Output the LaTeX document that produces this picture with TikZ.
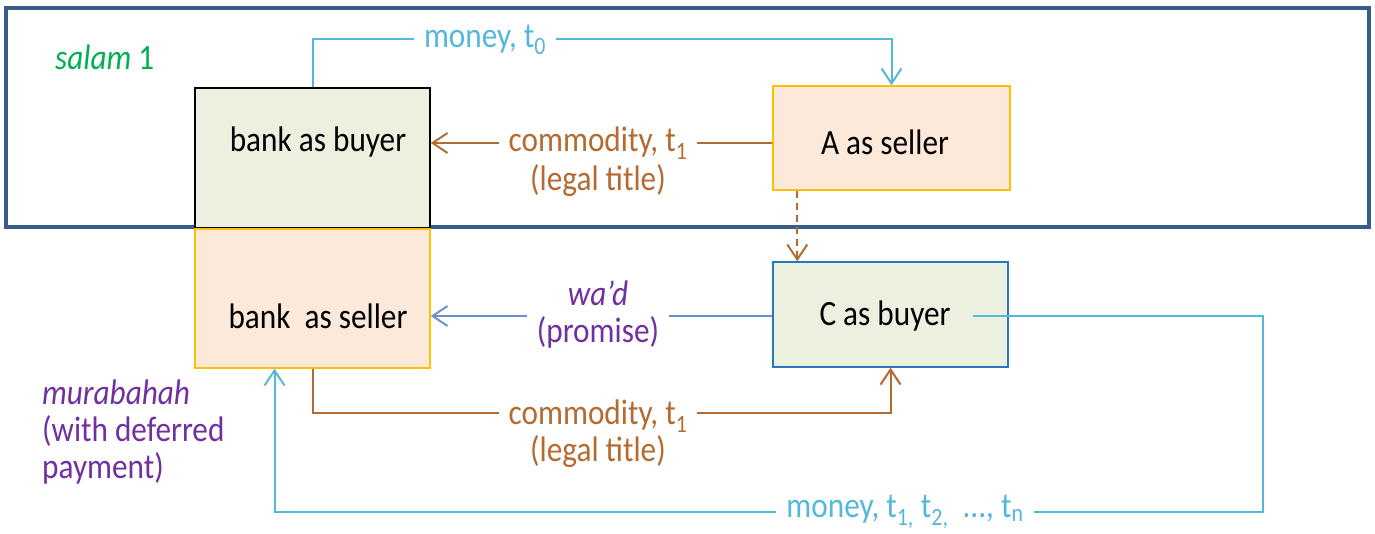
\documentclass[tikz,border=0pt]{standalone}
\usepackage{fontspec}
\setmainfont{Carlito}[FakeStretch=0.88]
\usetikzlibrary{arrows.meta,calc}
\definecolor{framecol}{RGB}{56,93,138}
\definecolor{skyb}{RGB}{85,182,222}
\definecolor{brn}{RGB}{180,106,48}
\definecolor{purp}{RGB}{112,48,160}
\definecolor{grn}{RGB}{0,176,80}
\definecolor{steel}{RGB}{105,145,205}
\definecolor{cbord}{RGB}{40,120,190}
\definecolor{gfill}{RGB}{235,241,222}
\definecolor{pfill}{RGB}{253,233,217}
\definecolor{ybord}{RGB}{255,192,0}
\begin{document}
\begin{tikzpicture}[x=1pt,y=-1pt,
  every node/.style={font=\fontsize{35.5}{37}\selectfont, inner sep=0pt},
  box/.style={draw, line width=1.5pt, minimum width=#1, anchor=center},
  tip/.style={-{Straight Barb[length=15pt,width=20pt,line width=2pt]}},
  conn/.style={line width=2pt},
  lab/.style={fill=white, inner xsep=10pt, inner ysep=2pt, align=center}
]
\useasboundingbox (0,0) rectangle (1375,534);
% frame
\draw[framecol, line width=4pt] (6,8) rectangle (1369,227);
% boxes
\node[box=235pt, minimum height=140pt, fill=gfill, draw=black] (bb) at (312.5,158) {};
\node[box=235pt, minimum height=139pt, fill=pfill, draw=ybord] (bs) at (312.5,298.5) {};
\node[box=237pt, minimum height=104pt, fill=pfill, draw=ybord] (A) at (891.5,138) {};
\node[box=235pt, minimum height=105pt, fill=gfill, draw=cbord] (C) at (890.5,314.5) {};
% box texts
\node (bbt) at (318,142) {bank as buyer};
\node (bst) at (318,316) {bank\ \ as seller};
\node (At) at (885,142) {A as seller};
\node (Ct) at (885,316) {C as buyer};
\node[text=grn, anchor=west] (salam) at (55,57) {\textit{salam} 1};
\node[text=purp, anchor=north west, align=left] (mur) at (42,380) {\textit{murabahah}\\(with deferred\\payment)};
\coordinate (cstart) at ([xshift=82pt]C.center |- Ct);
% connectors
\draw[skyb, conn, tip] (bb.north) -- ++(0,-48) -| (A.north);
\draw[brn, conn, tip] (A.west |- 0,143) -- (bb.east |- 0,143);
\draw[brn, conn, dash pattern=on 7pt off 5pt, tip] ([xshift=25pt]A.south west) -- ([xshift=25pt]C.north west);
\draw[steel, conn, tip] (C.west |- Ct) -- (bs.east |- Ct);
\draw[brn, conn, tip] (bs.south) -- ++(0,44) -| (C.south);
\draw[skyb, conn, tip] (cstart) -- ++(290,0) -- ++(0,196) -| ([xshift=-38pt]bs.south);
% labels
\node[lab, text=skyb] (m0) at (485,40) {money, t\textsubscript{0}};
\node[lab, text=brn] (c1) at (598,143) {commodity, t\textsubscript{1}};
\node[text=brn] (c1b) at (598,181) {(legal title)};
\node[lab, text=purp] (wad) at (598,315) {\textit{wa’d}\\(promise)};
\node[lab, text=brn] (c2) at (598,416) {commodity, t\textsubscript{1}};
\node[text=brn] (c2b) at (598,452) {(legal title)};
\node[lab, text=skyb] (mn) at (905,512) {money, t\textsubscript{1,} t\textsubscript{2,}\ \ ..., t\textsubscript{n}};
\end{tikzpicture}
\end{document}
